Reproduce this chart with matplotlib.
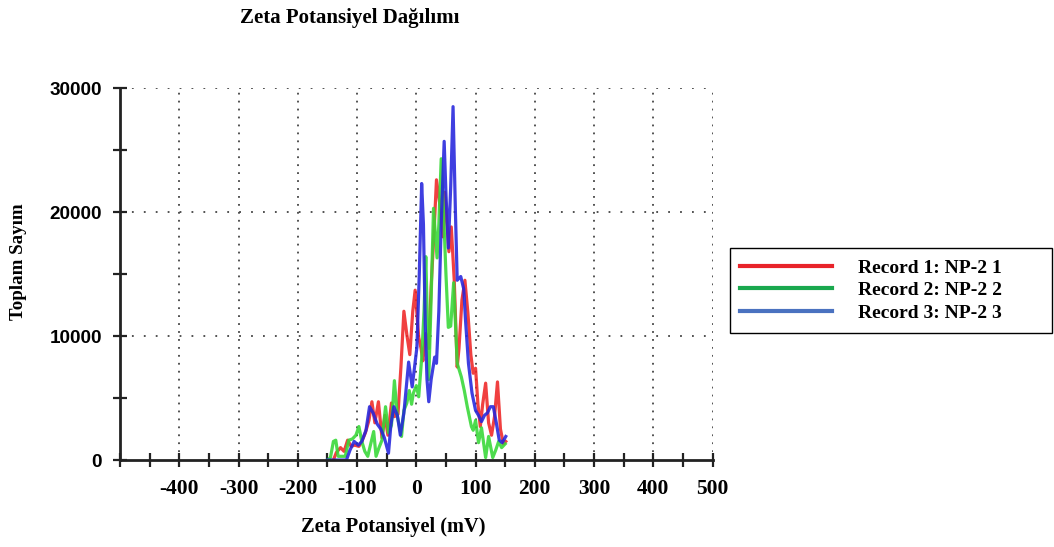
import matplotlib
matplotlib.use("Agg")
import matplotlib.pyplot as plt
from matplotlib.lines import Line2D
from matplotlib.patches import Rectangle

# zeta potential (mV) and total counts for each record
rec1_mv = [-140, -135, -128, -122, -116, -110, -104, -97, -92, -86, -80, -75, -70, -64, -58,
           -53, -48, -42, -37, -31, -26, -21, -16, -11, -6, -2, 4, 8, 11, 16, 21, 25, 30,
           34, 40, 45, 48, 55, 59, 64, 69, 72, 77, 82, 87, 92, 96, 100, 104, 108, 112, 117,
           122, 127, 132, 137, 142, 147, 151]
rec1_cnt = [0, 600, 1000, 700, 1600, 1100, 1200, 1100, 1500, 2200, 3200, 4700, 3000, 4700, 1800,
            3600, 2000, 4600, 3500, 3700, 7500, 12000, 10100, 8500, 12000, 13700, 9900, 9000,
            8000, 10200, 9000, 14000, 18500, 22600, 20500, 18000, 21600, 16800, 18800, 14500,
            7500, 9000, 12900, 14500, 11900, 8500, 7000, 7400, 4500, 2700, 4500, 6200, 3000,
            2000, 3500, 6300, 2500, 1300, 1500]

rec2_mv = [-150, -145, -140, -136, -132, -125, -120, -114, -108, -102, -97, -92, -87, -82, -77,
           -72, -68, -63, -58, -52, -47, -42, -37, -32, -25, -21, -16, -12, -8, -5, 0, 4, 9,
           13, 16, 21, 25, 29, 35, 38, 42, 46, 50, 54, 58, 63, 67, 69, 76, 81, 86, 93, 96,
           100, 105, 110, 117, 122, 129, 134, 139, 144, 150]
rec2_cnt = [0, 200, 1500, 1600, 300, 300, 300, 1600, 1700, 2000, 2700, 1500, 700, 300, 1300,
            2300, 300, 1000, 1600, 4300, 2200, 2800, 6400, 3500, 1900, 4000, 4600, 5600, 4500,
            5400, 6000, 5100, 8200, 12000, 16400, 6500, 13000, 20300, 16300, 19000, 24300,
            20000, 15000, 10700, 10800, 14300, 10000, 7800, 6700, 5600, 4300, 2700, 2400,
            3200, 1400, 2600, 200, 1900, 200, 800, 1500, 1000, 1300]

rec3_mv = [-150, -140, -130, -118, -112, -105, -98, -92, -85, -79, -73, -66, -60, -54, -47,
           -43, -38, -32, -27, -21, -13, -7, 1, 5, 9, 12, 15, 18, 21, 25, 31, 34, 38, 42,
           47, 50, 54, 58, 62, 66, 69, 75, 80, 83, 88, 94, 100, 105, 110, 115, 120, 125, 130,
           135, 140, 145, 151]
rec3_cnt = [0, 0, 0, 0, 800, 1500, 1200, 1500, 2400, 4300, 3800, 2900, 2500, 1800, 550,
            2800, 4300, 3600, 2000, 3800, 7900, 5900, 9100, 15000, 22300, 19000, 11000, 6500,
            4700, 6500, 8300, 7800, 12000, 19000, 25700, 21500, 17100, 22000, 28500, 20000,
            14500, 14800, 13800, 11300, 7800, 5400, 4000, 3600, 3100, 3600, 3800, 4300, 4300,
            3000, 1600, 1400, 1900]

series_labels = ["Record 1: NP-2 1", "Record 2: NP-2 2", "Record 3: NP-2 3"]
line_colors = ["#ee2525", "#35d835", "#2424dc"]
legend_colors = ["#e8232a", "#1aa84e", "#4a72c0"]

x_ticks = [-400, -300, -200, -100, 0, 100, 200, 300, 400, 500]
y_ticks = [0, 10000, 20000, 30000]

serif = ["Liberation Serif", "DejaVu Serif"]
sans = ["Liberation Sans", "DejaVu Sans"]

fig = plt.figure(figsize=(10.54, 5.47), dpi=100)
ax = fig.add_axes([0.114, 0.159, 0.562, 0.680])

for xs, ys, c in zip([rec1_mv, rec2_mv, rec3_mv], [rec1_cnt, rec2_cnt, rec3_cnt], line_colors):
    ax.plot(xs, ys, color=c, lw=2.3, alpha=0.88, solid_joinstyle="round")

ax.set_xlim(-500, 500)
ax.set_ylim(0, 30000)

# dotted grid
for gx in x_ticks:
    ax.axvline(gx, color="#444444", lw=1.3, ls=(0, (1, 3.4)), zorder=0)
for gy in [10000, 20000, 30000]:
    ax.axhline(gy, color="#444444", lw=1.3, ls=(0, (1, 5.6)), zorder=0)

for s in ["top", "right"]:
    ax.spines[s].set_visible(False)
for s in ["left", "bottom"]:
    ax.spines[s].set_linewidth(2)
    ax.spines[s].set_color("#222222")

ax.set_xticks(range(-500, 501, 50))
ax.set_xticklabels(["" if v not in x_ticks else str(v) for v in range(-500, 501, 50)],
                   fontfamily=serif, fontweight="bold", fontsize=15.5)
ax.set_yticks(range(0, 30001, 5000))
ax.set_yticklabels(["" if v not in y_ticks else str(v) for v in range(0, 30001, 5000)],
                   fontfamily=sans, fontweight="bold", fontsize=13.6)
ax.tick_params(axis="both", direction="inout", length=10, width=1.6, color="#222222")
ax.tick_params(axis="x", pad=9)
ax.tick_params(axis="y", pad=8)

fig.text(0.373, 0.037, "Zeta Potansiyel (mV)", ha="center", va="center",
         fontfamily=serif, fontweight="bold", fontsize=14.7)
fig.text(0.018, 0.521, "Toplam Sayım", ha="center", va="center", rotation=90,
         fontfamily=serif, fontweight="bold", fontsize=13.6)
fig.text(0.332, 0.967, "Zeta Potansiyel Dağılımı", ha="center", va="center",
         fontfamily=serif, fontweight="bold", fontsize=15)

# legend with a frame reaching the right edge
fig.patches.append(Rectangle((0.6926, 0.3912), 0.3055, 0.1554, transform=fig.transFigure,
                             fill=False, edgecolor="black", lw=1.0))
handles = [Line2D([], [], color=c, lw=3) for c in legend_colors]
ax.legend(handles, series_labels, loc="center left", bbox_to_anchor=(0.6926, 0.469),
          bbox_transform=fig.transFigure, frameon=False, handlelength=4.73,
          handletextpad=1.34, labelspacing=0.26, borderpad=0.5, borderaxespad=0,
          prop={"family": serif, "weight": "bold", "size": 14})

fig.savefig("out.png", dpi=100)
